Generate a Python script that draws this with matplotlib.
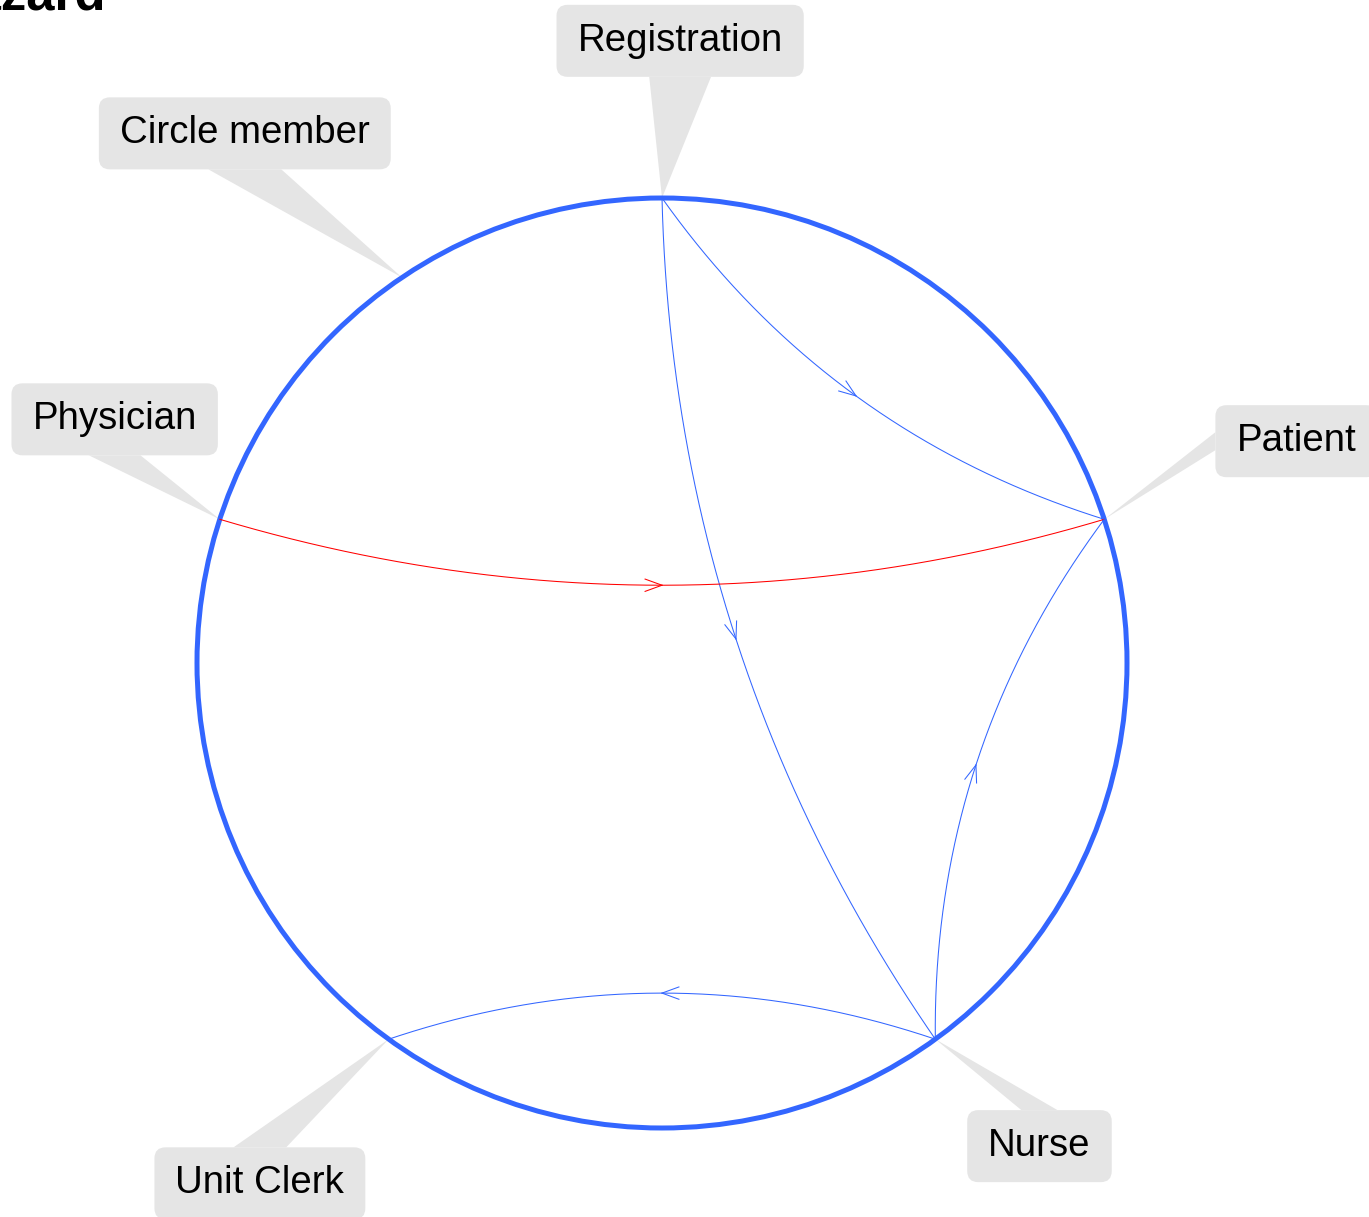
import numpy as np
import matplotlib
matplotlib.use('Agg')
import matplotlib.pyplot as plt
from matplotlib.patches import FancyBboxPatch, Polygon, Circle

plt.rcParams['font.family'] = ['Liberation Sans', 'DejaVu Sans']

# data
title = 'Hazard'
nodes = ['Registration', 'Patient', 'Nurse', 'Unit Clerk', 'Physician']
circle_label = 'Circle member'
circle_label_angle = 124
edge_from = ['Registration', 'Registration', 'Physician', 'Nurse', 'Nurse']
edge_to = ['Patient', 'Nurse', 'Patient', 'Patient', 'Unit Clerk']
edge_color = ['#3366FF', '#3366FF', '#FF0000', '#3366FF', '#3366FF']
# label offsets from the node (circle radius = 1)
label_dx = [0.039, 0.413, 0.224, -0.277, -0.226]
label_dy = [0.338, 0.168, -0.230, -0.310, 0.215]
circle_label_dx, circle_label_dy = -0.338, 0.310

W, H = 1369, 1217
CX, CY, RPX = 662, 663, 465   # circle centre / radius in pixels
px = 1.0 / RPX
BOX_GREY = '#E5E5E5'
FS = 27.6

fig = plt.figure(figsize=(W / 100, H / 100), dpi=100)
ax = fig.add_axes([0, 0, 1, 1])
ax.set_xlim(-CX / RPX, (W - CX) / RPX)
ax.set_ylim((CY - H) / RPX, CY / RPX)
ax.axis('off')

n = len(nodes)
ang = np.deg2rad(90 - 360.0 / n * np.arange(n))
pos = {name: np.array([np.cos(a), np.sin(a)]) for name, a in zip(nodes, ang)}

# big circle
ax.add_patch(Circle((0, 0), 1, fill=False, ec='#3366FF', lw=3.6, zorder=3))

# curved edges, bent toward the centre, open arrow head at the middle
t = np.linspace(0, 1, 200)[:, None]
for f, to, col in zip(edge_from, edge_to, edge_color):
    p0, p1 = pos[f], pos[to]
    m = (p0 + p1) / 2
    chord = np.linalg.norm(p1 - p0)
    d = -m / np.linalg.norm(m)
    sag = 0.0587 * chord + 14 * px
    c = m + 2 * sag * d
    curve = (1 - t) ** 2 * p0 + 2 * (1 - t) * t * c + t ** 2 * p1
    ax.plot(curve[:, 0], curve[:, 1], color=col, lw=0.75, zorder=4)
    tip = 0.25 * p0 + 0.5 * c + 0.25 * p1
    u = (p1 - p0) / chord
    for s in (1, -1):
        a = np.deg2rad(20) * s
        rot = np.array([[np.cos(a), -np.sin(a)], [np.sin(a), np.cos(a)]])
        back = tip - 18 * px * rot @ u
        ax.plot([back[0], tip[0]], [back[1], tip[1]], color=col, lw=0.75, zorder=4)

# labels with callout pointers
anchors = [pos[nm] for nm in nodes]
ca = np.deg2rad(circle_label_angle)
anchors.append(np.array([np.cos(ca), np.sin(ca)]))
texts = nodes + [circle_label]
offs = list(zip(label_dx, label_dy)) + [(circle_label_dx, circle_label_dy)]

fig.canvas.draw()
renderer = fig.canvas.get_renderer()
for txt, anc, (dx, dy) in zip(texts, anchors, offs):
    cen = anc + np.array([dx, dy])
    tobj = ax.text(cen[0], cen[1], txt, ha='center', va='center',
                   fontsize=FS, color='black', zorder=6)
    bb = tobj.get_window_extent(renderer)
    bw = (bb.width + 42) * px
    bh = 72 * px
    ax.add_patch(FancyBboxPatch((cen[0] - bw / 2, cen[1] - bh / 2), bw, bh,
                                boxstyle='round,pad=0,rounding_size=%f' % (11 * px),
                                fc=BOX_GREY, ec='none', zorder=5))
    # pointer: base on the box side facing the anchor, a quarter of that side long
    v = anc - cen
    if abs(v[1]) / (bh / 2) > abs(v[0]) / (bw / 2):
        ey = cen[1] + np.sign(v[1]) * bh / 2
        b1 = (cen[0] - bw / 8, ey)
        b2 = (cen[0] + bw / 8, ey)
    else:
        ex = cen[0] + np.sign(v[0]) * bw / 2
        b1 = (ex, cen[1] - bh / 8)
        b2 = (ex, cen[1] + bh / 8)
    ax.add_patch(Polygon([b1, b2, anc], closed=True, fc=BOX_GREY, ec='none', zorder=1))

fig.text(106 / W, 1 - 9 / H, title, ha='right', va='baseline',
         fontsize=36.5, fontweight='bold')

fig.savefig('out.png', dpi=100)
